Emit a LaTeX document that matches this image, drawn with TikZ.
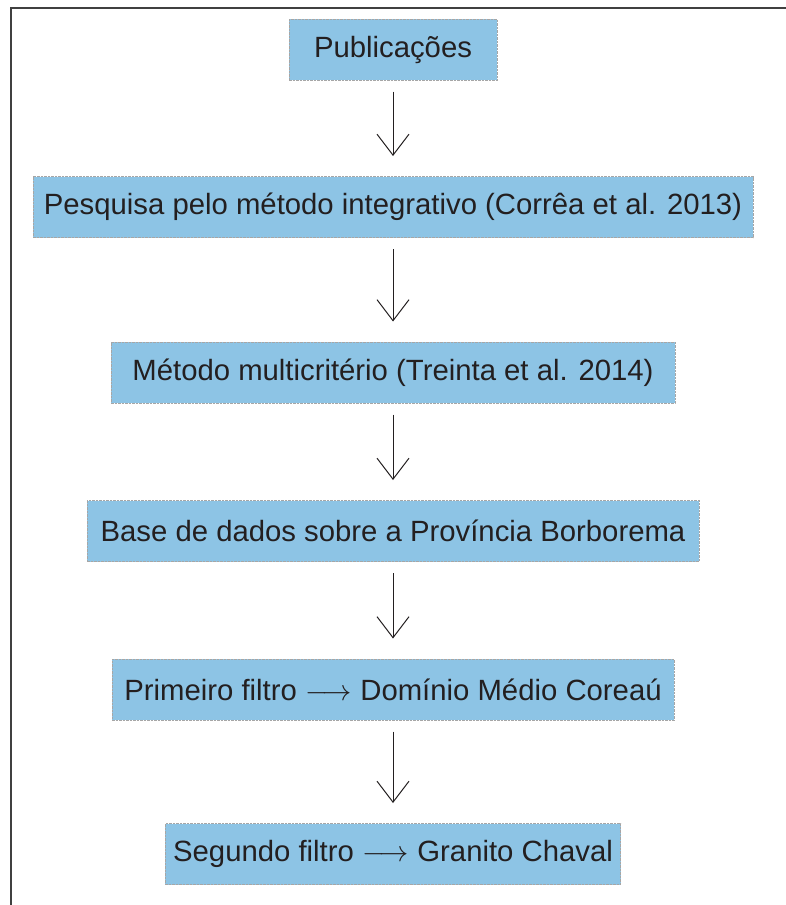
\RequirePackage{fix-cm}
\documentclass[tikz,border=0pt]{standalone}
\usepackage{fontspec}
\setmainfont{Liberation Sans}
\usetikzlibrary{arrows.meta}
\definecolor{azulcaixa}{HTML}{8DC4E5}
\definecolor{textocinza}{HTML}{231F20}
\begin{document}
\begin{tikzpicture}[x=1pt,y=1pt,
    etapa/.style={draw=gray!70,dash pattern=on 2.5pt off 1pt,line width=1pt,fill=azulcaixa,
      minimum height=61pt,inner xsep=8pt,text=textocinza,font=\fontsize{29.3}{32}\selectfont},
    seta/.style={-{Straight Barb[length=21pt,width=32pt]},line width=1pt,draw=textocinza,
      shorten <=11pt,shorten >=20pt}]
\useasboundingbox (0,0) rectangle (786,-905);
\draw[line width=1.6pt,draw=black!75](11,-905)--(11,-8)--(786,-8);
\node[etapa,minimum width=208pt] (pub) at (393,-49.5){Publicações};
\node[etapa,minimum width=720pt] (pesq) at (393,-207){Pesquisa pelo método integrativo (Corrêa et al. 2013)};
\node[etapa,minimum width=564pt] (multi) at (393,-372.5){Método multicritério (Treinta et al. 2014)};
\node[etapa,minimum width=612pt] (base) at (393,-531){Base de dados sobre a Província Borborema};
\node[etapa,minimum width=562pt] (filtro1) at (393,-689.5){Primeiro filtro $\longrightarrow$ Domínio Médio Coreaú};
\node[etapa,minimum width=452pt] (filtro2) at (393,-854){Segundo filtro $\longrightarrow$ Granito Chaval};
\draw[seta](pub)--(pesq);
\draw[seta](pesq)--(multi);
\draw[seta](multi)--(base);
\draw[seta](base)--(filtro1);
\draw[seta](filtro1)--(filtro2);
\end{tikzpicture}
\end{document}
